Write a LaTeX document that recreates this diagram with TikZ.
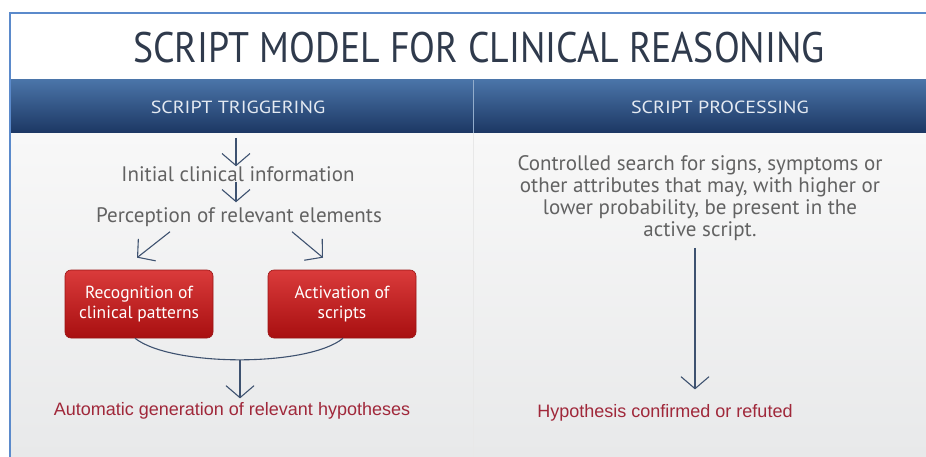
\documentclass[tikz,border=0pt]{standalone}
\usepackage{fontspec}
\setmainfont{PT Sans}
\newfontfamily\arialf{Liberation Sans}
\usetikzlibrary{arrows.meta}
\definecolor{hdrtop}{HTML}{4A74A8}
\definecolor{hdrbot}{HTML}{1C3763}
\definecolor{bodytop}{HTML}{F8F8F8}
\definecolor{bodybot}{HTML}{E8E9EA}
\definecolor{framecol}{HTML}{5B8ACB}
\definecolor{titlecol}{HTML}{2F3A4C}
\definecolor{graytext}{HTML}{626262}
\definecolor{hdrfont}{HTML}{E4EAF2}
\definecolor{redtext}{HTML}{A0283A}
\definecolor{boxtop}{HTML}{DA3B3B}
\definecolor{boxbot}{HTML}{A80F10}
\definecolor{boxedge}{HTML}{9A1515}
\definecolor{arrcol}{HTML}{3E5270}
\tikzset{
  titletext/.style={text=titlecol, font=\fontsize{37.8}{40}\selectfont, inner sep=0pt},
  hdrtext/.style={text=hdrfont, font=\fontsize{20}{22}\selectfont, inner sep=0pt},
  gtext/.style={text=graytext, font=\fontsize{21}{24}\selectfont, inner sep=1pt},
  ptext/.style={text=graytext, font=\fontsize{21}{22}\selectfont, align=center, inner sep=1pt},
  rtext/.style={text=redtext, font=\arialf\fontsize{18}{20}\selectfont, inner sep=1pt},
  redbox/.style={rounded corners=6pt, draw=boxedge, line width=0.6pt,
    top color=boxtop, bottom color=boxbot, text=white, align=center,
    font=\fontsize{17.5}{20}\selectfont, minimum width=148pt, minimum height=68pt, inner sep=2pt},
  arr/.style={draw=arrcol, line width=1.1pt, -{Straight Barb[length=12pt,width=28pt,line width=1.1pt]}},
  link/.style={draw=arrcol, line width=1.1pt}
}
\begin{document}
\begin{tikzpicture}[x=1pt,y=-1pt]
\useasboundingbox (0,0) rectangle (926,457);
\fill[white] (0,0) rectangle (926,457);
% body background
\shade[top color=bodytop, bottom color=bodybot] (10,133) rectangle (926,457);
\draw[gray!18, line width=0.8pt] (473,133) -- (473,457);
% header band
\shade[top color=hdrtop, bottom color=hdrbot] (10,80) rectangle (926,133);
\draw[white!40!hdrtop, line width=0.6pt] (473,80) -- (473,133);
% frame
\draw[framecol, line width=1.4pt] (10,457) -- (10,13) -- (926,13);

% texts
\node[titletext] (title) at (479,48) {\scalebox{1}[1.13]{SCRIPT MODEL FOR CLINICAL REASONING}};
\node[hdrtext] (h1) at (238,107) {\scalebox{1}[0.88]{SCRIPT TRIGGERING}};
\node[hdrtext] (h2) at (720,107) {\scalebox{1}[0.88]{SCRIPT PROCESSING}};

% left column
\coordinate (s0) at (236,138);
\coordinate (s1) at (236,182);
\node[gtext] (init) at (238,174) {Initial clinical information};
\node[gtext] (perc) at (239,217) {Perception of relevant elements};
\node[redbox] (rec) at (139,304) {Recognition of\\clinical patterns};
\node[redbox] (act) at (342,304) {Activation of\\scripts};
\node[rtext] (auto) at (232,411) {Automatic generation of relevant hypotheses};
\coordinate (join) at (240,360);

\draw[arr] (s0) -- ([yshift=-1pt]s0 |- init.north);
\draw[arr] (s1) -- ([yshift=4pt]s1 |- perc.north);
\draw[arr] ([xshift=-69pt,yshift=-4pt]perc.south) -- ([xshift=-2pt,yshift=12pt]rec.north);
\draw[arr] ([xshift=53pt,yshift=-4pt]perc.south) -- ([xshift=-19pt,yshift=12pt]act.north);
\draw[link] ([xshift=-4pt]rec.south) .. controls (172,367) and (308,367) .. ([xshift=1pt]act.south);
\draw[arr] (join) -- ([yshift=3pt]join |- auto.north);

% right column
\node[ptext] (ctrl) at (700,198) {Controlled search for signs, symptoms or\\other attributes that may, with higher or\\lower probability, be present in the\\active script.};
\node[rtext] (hyp) at (665,413) {Hypothesis confirmed or refuted};
\draw[arr] ([xshift=-5pt,yshift=-6pt]ctrl.south) -- ([xshift=-5pt,yshift=14pt]ctrl.south |- hyp.north);
\end{tikzpicture}
\end{document}
